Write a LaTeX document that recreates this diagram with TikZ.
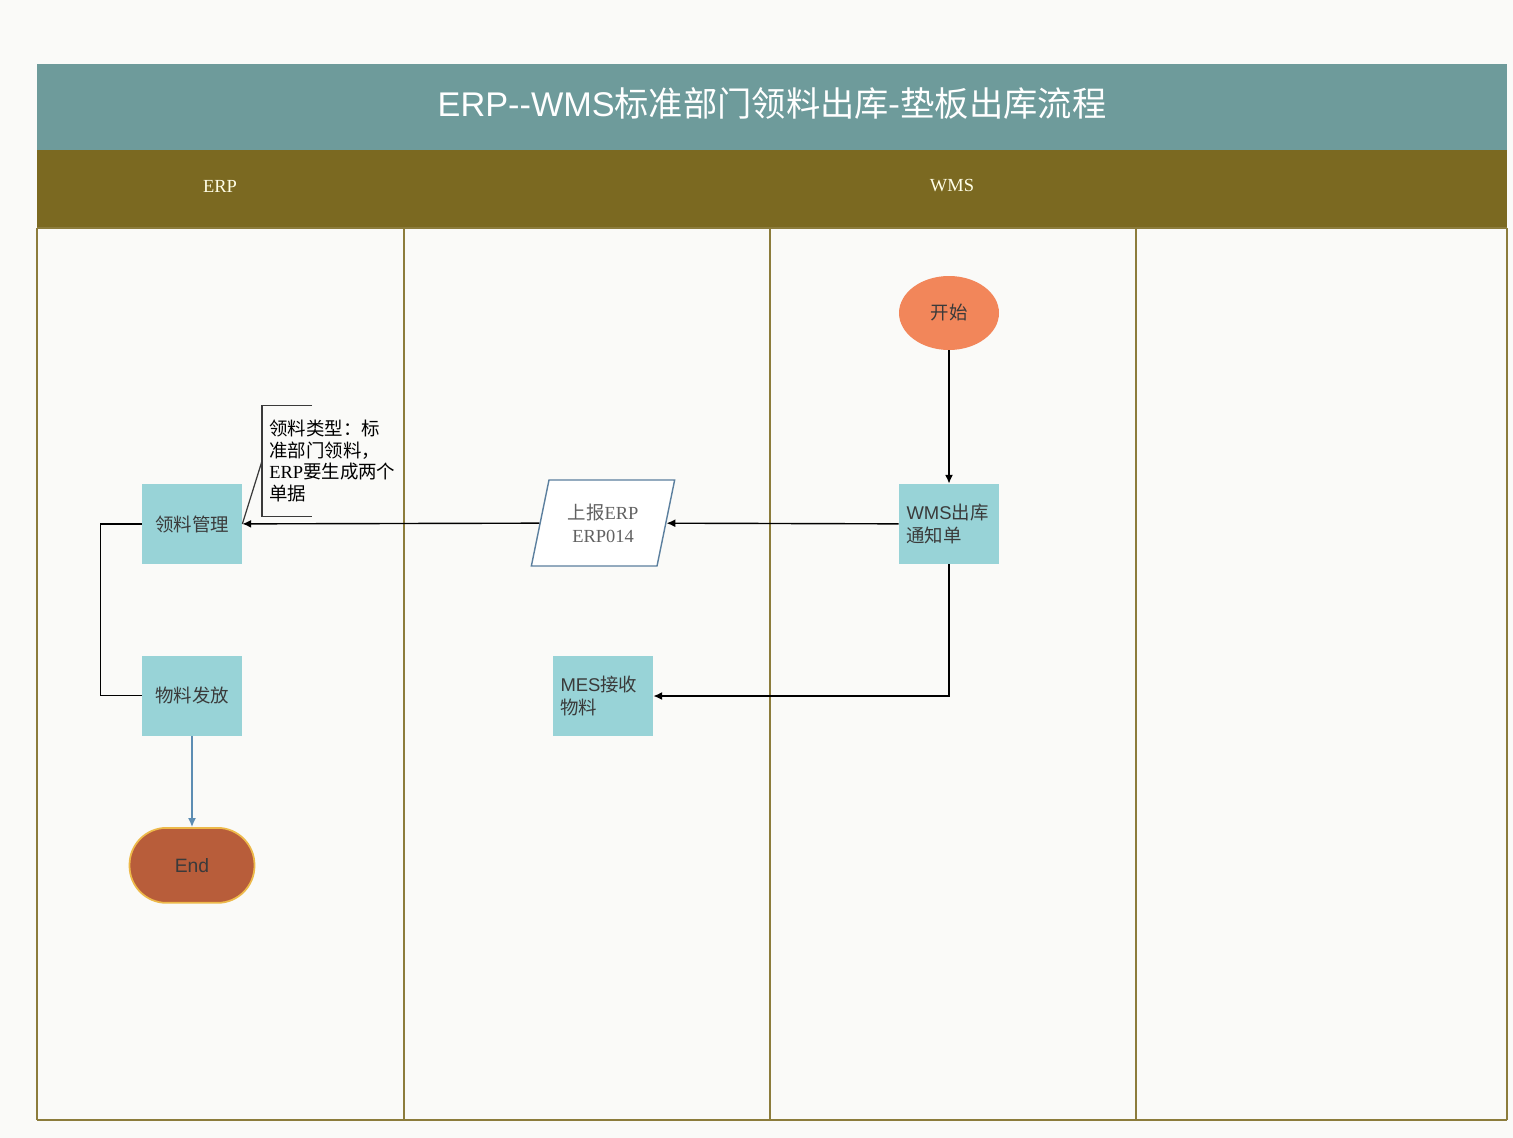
\documentclass[tikz,border=0pt]{standalone}
\usepackage{fontspec}
\setmainfont{Liberation Serif}
\newfontfamily\cjk{Noto Sans CJK SC}
\newfontfamily\arial{Liberation Sans}
\usetikzlibrary{arrows.meta, positioning, shapes.geometric, calc}
\definecolor{pagebg}{HTML}{FAFAF8}
\definecolor{titlebg}{HTML}{6E9B9B}
\definecolor{headbg}{HTML}{7B6921}
\definecolor{laneline}{HTML}{8C7C3C}
\definecolor{procfill}{HTML}{98D3D7}
\definecolor{startfill}{HTML}{F2865A}
\definecolor{endfill}{HTML}{B85D3A}
\definecolor{enddraw}{HTML}{EDB94A}
\definecolor{ioline}{HTML}{5B7F9E}
\definecolor{flowblue}{HTML}{5C8DB3}
\definecolor{txtgray}{HTML}{3A3A3A}

\begin{document}
\begin{tikzpicture}[
      x=0.02cm, y=-0.02cm,
      proc/.style={
        rectangle,
        fill=procfill,
        minimum width=2cm,
        minimum height=1.6cm,
        inner sep=0pt,
        align=center,
        text=txtgray,
        font=\cjk\fontsize{10.5}{13}\selectfont
      },
      procleft/.style={proc, align=left, text width=1.7cm, inner xsep=0.15cm},
      io/.style={
        trapezium,
        trapezium left angle=75,
        trapezium right angle=105,
        trapezium stretches=true,
        minimum width=2.88cm,
        minimum height=1.72cm,
        fill=white,
        draw=ioline,
        line width=0.8pt,
        align=center,
        text=txtgray!80,
        font=\cjk\fontsize{10.5}{13}\selectfont
      },
      startnode/.style={ellipse, fill=startfill, minimum width=2cm, minimum height=1.48cm,
        text=txtgray, font=\cjk\fontsize{10.5}{13}\selectfont},
      endnode/.style={rectangle, rounded corners=0.74cm, fill=endfill, draw=enddraw,
        line width=1pt, minimum width=2.5cm, minimum height=1.5cm,
        text=txtgray, font=\arial\fontsize{11}{13}\selectfont},
      arr/.style={-{Latex[length=5pt, width=4.5pt]}, line width=0.8pt},
      lane/.style={draw=laneline, line width=1pt},
      memo/.style={align=left, inner xsep=0.14cm, minimum height=2.2cm,
        font=\cjk\fontsize{10.5}{12.4}\selectfont, text=black}
    ]
      % page, title and lane header
      \useasboundingbox (0,0) rectangle (1513,1138);
      \fill[pagebg] (0,0) rectangle (1513,1138);
      \fill[titlebg] (37,64) rectangle (1507,150);
      \fill[headbg] (37,150) rectangle (1507,228);
      \foreach \x in {37,404,770,1136,1507}
        \draw[lane] (\x,228) -- (\x,1120);
      \draw[lane] (37,1120) -- (1507,1120);
      \draw[lane] (37,228) -- (1507,228);

      \node[text=white, font=\cjk\fontsize{19.5}{22}\selectfont] (title) at (772,104)
        {{\arial ERP-{}-WMS}标准部门领料出库-垫板出库流程};
      \node[text=white!90!yellow, font=\fontsize{10.5}{12}\selectfont] (erphead) at (220,186) {ERP};
      \node[text=white!90!yellow, font=\fontsize{10.5}{12}\selectfont] (wmshead) at (952,186) {WMS};

      % flow
      \node[startnode] (start) at (949,313) {开始};
      \node[procleft] (wmsnote) at (949,524) {{\arial WMS}出库\\通知单};
      \node[io] (report) at (603,523) {上报{\rmfamily ERP}\\{\rmfamily ERP014}};
      \node[proc] (lingliao) at (192,524) {领料管理};
      \node[proc, below=1.82cm of lingliao] (faf) {物料发放};
      \node[procleft] (mes) at (603,696) {{\arial MES}接收\\物料};
      \node[endnode, below=1.82cm of faf] (end) {End};

      \draw[arr] (start) -- (wmsnote);
      \draw[arr] (wmsnote) -- (report);
      \draw[arr] (report) -- (lingliao);
      \draw[arr] (wmsnote.south) |- (mes.east);
      \draw[line width=0.8pt] (lingliao.west) -- ++(-41,0) |- (faf.west);
      \draw[arr, flowblue] (faf) -- (end);

      % note on the document type
      \node[memo, anchor=west] (note) at (262,461)
        {领料类型：标\\准部门领料，\\{\rmfamily ERP}要生成两个\\单据};
      \draw[line width=0.7pt, txtgray] ($(note.north west)+(50,0)$) -- (note.north west)
        -- (note.south west) -- ++(50,0);
      \draw[line width=0.7pt, txtgray] (note.west) -- (lingliao.east);
    \end{tikzpicture}
\end{document}
